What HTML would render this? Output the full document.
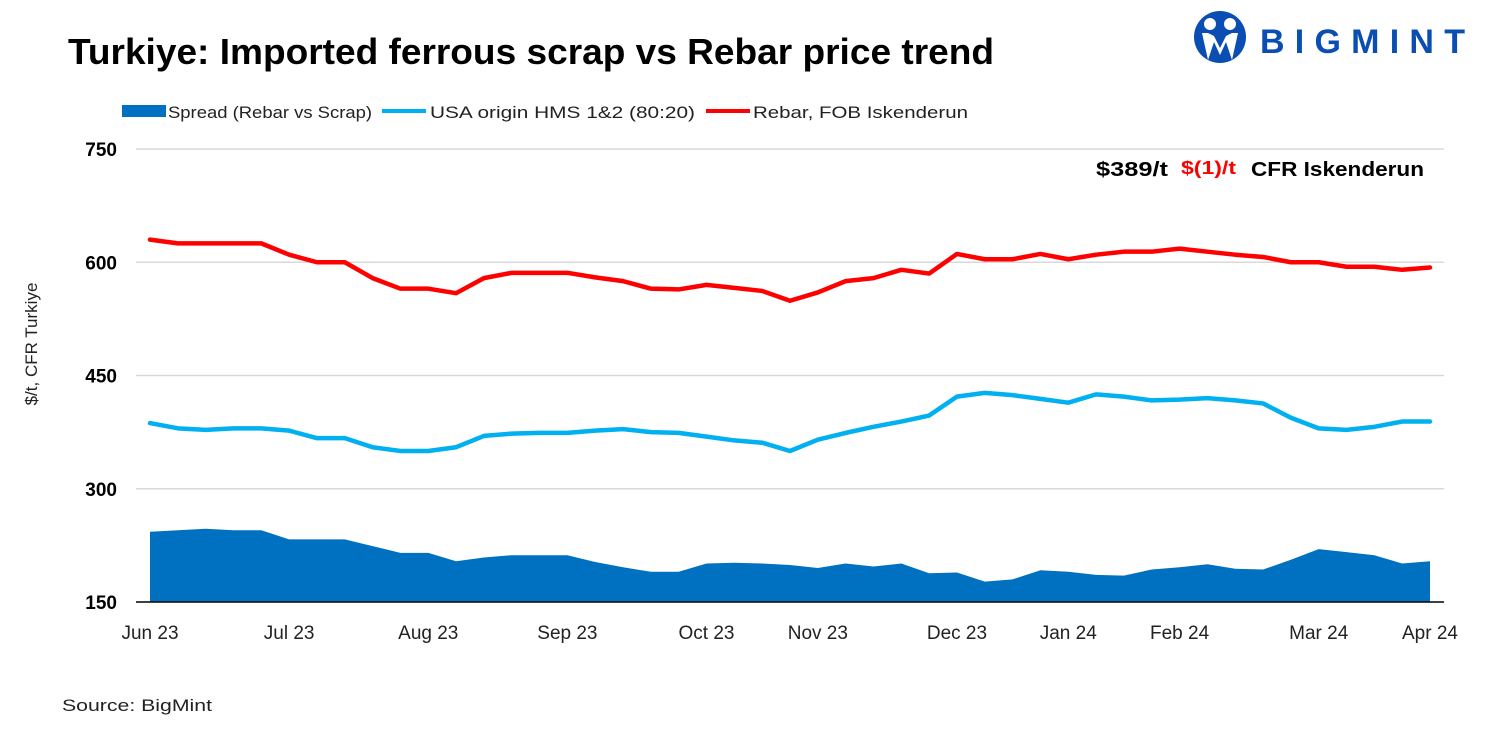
<!DOCTYPE html>
<html><head><meta charset="utf-8"><style>
body{margin:0;background:#fff;width:1500px;height:750px;overflow:hidden;font-family:"Liberation Sans",sans-serif}
</style></head><body>
<svg id="c" width="1500" height="750" xmlns="http://www.w3.org/2000/svg" font-family="Liberation Sans, sans-serif">
<text x="68" y="64" font-size="36" font-weight="bold" fill="#000" textLength="926" lengthAdjust="spacingAndGlyphs">Turkiye: Imported ferrous scrap vs Rebar price trend</text>
<g>
<circle cx="1220" cy="37" r="26" fill="#0a4eb3"/>
<circle cx="1210" cy="24" r="6" fill="#fff"/><circle cx="1230" cy="24" r="6" fill="#fff"/>
<path d="M1202 33 L1208 60 L1214 42 L1220 55 L1226 42 L1232 60 L1238 33 L1232 33 L1226 36 L1220 48 L1214 36 L1208 33Z" fill="#fff"/>
<text x="1260" y="53" font-size="34" font-weight="bold" fill="#0a4eb3" textLength="205" lengthAdjust="spacing">BIGMINT</text>
</g>
<g font-size="17" fill="#222">
<g><rect x="122" y="105" width="44" height="12" fill="#0070c0"/><text x="168" y="118" textLength="204" lengthAdjust="spacingAndGlyphs">Spread (Rebar vs Scrap)</text></g>
<g><rect x="382" y="109" width="44" height="4" fill="#00b0f0"/><text x="430" y="118" textLength="265" lengthAdjust="spacingAndGlyphs">USA origin HMS 1&amp;2 (80:20)</text></g>
<g><rect x="706" y="109" width="44" height="4" fill="#ff0000"/><text x="753" y="118" textLength="215" lengthAdjust="spacingAndGlyphs">Rebar, FOB Iskenderun</text></g>
</g>
<text transform="translate(37,344) rotate(-90)" text-anchor="middle" font-size="17" fill="#222">$/t, CFR Turkiye</text>
<g font-size="20" font-weight="bold">
<text x="1096" y="176" fill="#000" textLength="72" lengthAdjust="spacingAndGlyphs">$389/t</text>
<text x="1181" y="174" fill="#ff0000" font-size="18" textLength="55" lengthAdjust="spacingAndGlyphs">$(1)/t</text>
<text x="1251" y="176" fill="#000" textLength="173" lengthAdjust="spacingAndGlyphs">CFR Iskenderun</text>
</g>
<text x="62" y="711" font-size="17" fill="#222" textLength="150" lengthAdjust="spacingAndGlyphs">Source: BigMint</text>
<g id="grid"></g><g id="marks"></g><g id="axes"></g>
</svg>
<script>
const xLabels=["Jun 23","Jul 23","Aug 23","Sep 23","Oct 23","Nov 23","Dec 23","Jan 24","Feb 24","Mar 24","Apr 24"];
const xLabelIdx=[0,5,10,15,20,24,29,33,37,42,46];
const yTicks=[150,300,450,600,750];
const rebar=[630,625,625,625,625,610,600,600,579,565,565,559,579,586,586,586,580,575,565,564,570,566,562,549,560,575,579,590,585,611,604,604,611,604,610,614,614,618,614,610,607,600,600,594,594,590,593];
const scrap=[387,380,378,380,380,377,367,367,355,350,350,355,370,373,374,374,377,379,375,374,369,364,361,350,365,374,382,389,397,422,427,424,419,414,425,422,417,418,420,417,413,394,380,378,382,389,389];
const spread=[243,245,247,245,245,233,233,233,224,215,215,204,209,212,212,212,203,196,190,190,201,202,201,199,195,201,197,201,188,189,177,180,192,190,186,185,193,196,200,194,193,206,220,216,212,201,204];
const NS='http://www.w3.org/2000/svg';
const x0=150,x1=1430,n=rebar.length;
const X=i=>x0+(x1-x0)*i/(n-1);
const Y=v=>602-(v-150)*(602-149)/600;
function mk(t,a,p){const e=document.createElementNS(NS,t);for(const k in a)e.setAttribute(k,a[k]);p.appendChild(e);return e;}
const grid=document.getElementById('grid'),marks=document.getElementById('marks'),axes=document.getElementById('axes');
yTicks.forEach(v=>{
 if(v>150){const l=mk('line',{x1:136,x2:1444,y1:Y(v),y2:Y(v),stroke:'#d9d9d9','stroke-width':1.5},grid);
 
 }
 const t=mk('text',{x:117,y:Y(v)+7,'text-anchor':'end','font-size':19,'font-weight':'bold',fill:'#000'},axes);
 t.textContent=v;
 
 
});
let d='M'+X(0)+','+Y(150);
spread.forEach((v,i)=>d+=' L'+X(i)+','+Y(v));
d+=' L'+X(n-1)+','+Y(150)+'Z';
const area=mk('path',{d:d,fill:'#0070c0'},marks);


function line(arr,col,name){
 const p=mk('polyline',{points:arr.map((v,i)=>X(i)+','+Y(v)).join(' '),fill:'none',stroke:col,'stroke-width':4.5,'stroke-linejoin':'round','stroke-linecap':'round'},marks);
 
 
}
line(scrap,'#00b0f0','scrap-line');
line(rebar,'#ff0000','rebar-line');
const ax=mk('line',{x1:136,x2:1444,y1:602,y2:602,stroke:'#000','stroke-width':1.5},axes);


xLabels.forEach((s,k)=>{
 const t=mk('text',{x:X(xLabelIdx[k]),y:639,'text-anchor':'middle','font-size':19,fill:'#222'},axes);
 t.textContent=s;
 
 
});
</script>
</body></html>
